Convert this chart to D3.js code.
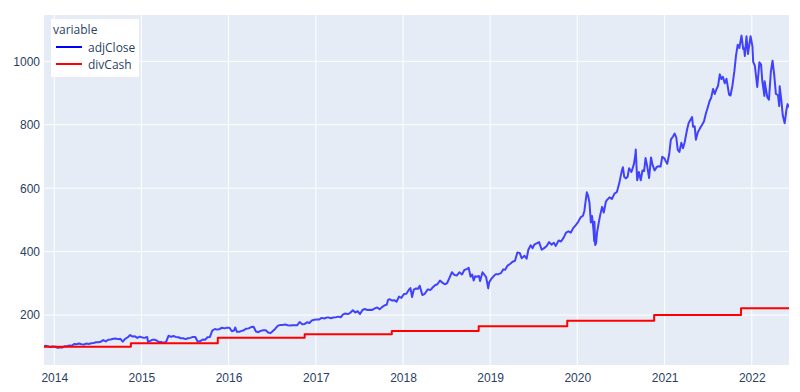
<!DOCTYPE html>
<html><head><meta charset="utf-8">
<script src="https://cdn.jsdelivr.net/npm/d3@7"></script>
<style>html,body{margin:0;padding:0;background:#fff;}svg{display:block;font-family:"Open Sans",verdana,arial,sans-serif;}</style>
</head><body>
<svg id="chart" width="800" height="392"></svg>
<script>
const seriesNames = ["adjClose", "divCash"];
const seriesColors = ["blue", "red"];
const legendTitle = "variable";
const yTicks = [200, 400, 600, 800, 1000];
const xTickYears = [2014, 2015, 2016, 2017, 2018, 2019, 2020, 2021, 2022];
const xDomain = ["2013-11-19", "2022-06-06"];
const yDomain = [42.5, 1146];

const divCash = [
  ["2013-11-19",100],["2014-11-18",110.7],["2015-11-17",128.6],["2016-11-15",139.3],
  ["2017-11-15",150],["2018-11-14",164.3],["2019-11-20",182.1],["2020-11-18",200],
  ["2021-11-17",221.4],["2022-06-06",221.4]
];

const adjClose = [
  ["2013-11-19",100],["2013-11-25",103],["2013-12-05",102],["2013-12-15",99],["2013-12-25",101],
  ["2014-01-05",100],["2014-01-15",97],["2014-01-25",98],["2014-02-05",98],["2014-02-15",102],["2014-02-25",102],
  ["2014-03-05",104],["2014-03-15",103],["2014-03-25",109],["2014-04-05",108],["2014-04-15",110],["2014-04-25",108],
  ["2014-05-05",107],["2014-05-15",110],["2014-05-25",109],["2014-06-05",111],["2014-06-15",112],["2014-06-25",114],
  ["2014-07-05",114],["2014-07-15",116],["2014-07-25",121],["2014-08-05",117],["2014-08-15",122],["2014-08-25",123],
  ["2014-09-05",125],["2014-09-15",126],["2014-09-25",124],["2014-10-05",125],["2014-10-15",116],["2014-10-25",125],
  ["2014-11-05",130],["2014-11-15",137],["2014-11-25",132],["2014-12-05",133],["2014-12-15",128],["2014-12-25",132],
  ["2015-01-05",129],["2015-01-15",128],["2015-01-25",131],["2015-01-29",115],["2015-02-05",118],["2015-02-15",122],["2015-02-25",122],
  ["2015-03-05",120],["2015-03-15",115],["2015-03-25",115],["2015-04-05",112],["2015-04-15",116],["2015-04-25",135],
  ["2015-05-05",131],["2015-05-15",134],["2015-05-25",131],["2015-06-05",130],["2015-06-15",127],["2015-06-25",127],
  ["2015-07-05",124],["2015-07-15",127],["2015-07-25",128],["2015-08-05",131],["2015-08-15",131],["2015-08-25",116],
  ["2015-09-05",118],["2015-09-15",123],["2015-09-25",122],["2015-10-05",130],["2015-10-15",131],["2015-10-25",151],
  ["2015-11-05",156],["2015-11-15",154],["2015-11-25",156],["2015-12-05",160],["2015-12-15",158],["2015-12-25",160],
  ["2016-01-05",160],["2016-01-15",149],["2016-01-25",152],["2016-01-29",161],["2016-02-05",147],["2016-02-15",147],["2016-02-25",150],
  ["2016-03-05",152],["2016-03-15",157],["2016-03-25",158],["2016-04-05",162],["2016-04-15",163],["2016-04-25",148],
  ["2016-05-05",146],["2016-05-15",150],["2016-05-25",152],["2016-06-05",152],["2016-06-15",145],["2016-06-25",143],
  ["2016-07-05",150],["2016-07-15",157],["2016-07-25",166],["2016-08-05",169],["2016-08-15",169],["2016-08-25",170],
  ["2016-09-05",168],["2016-09-15",167],["2016-09-25",168],["2016-10-05",168],["2016-10-15",168],["2016-10-25",178],
  ["2016-11-05",171],["2016-11-15",172],["2016-11-25",177],["2016-12-05",175],["2016-12-15",183],["2016-12-25",185],
  ["2017-01-05",186],["2017-01-15",186],["2017-01-25",191],["2017-02-05",189],["2017-02-15",192],["2017-02-25",192],
  ["2017-03-05",190],["2017-03-15",192],["2017-03-25",193],["2017-04-05",195],["2017-04-15",193],["2017-04-25",202],
  ["2017-05-05",205],["2017-05-15",203],["2017-05-25",207],["2017-06-05",215],["2017-06-15",208],["2017-06-25",212],
  ["2017-07-05",203],["2017-07-15",216],["2017-07-25",219],["2017-08-05",216],["2017-08-15",217],["2017-08-25",216],
  ["2017-09-05",221],["2017-09-15",224],["2017-09-25",218],["2017-10-05",225],["2017-10-15",230],["2017-10-25",233],["2017-10-30",247],
  ["2017-11-05",250],["2017-11-15",246],["2017-11-25",247],["2017-12-05",242],["2017-12-15",258],["2017-12-25",254],
  ["2018-01-05",266],["2018-01-15",267],["2018-01-25",279],["2018-02-01",285],["2018-02-08",257],["2018-02-15",280],["2018-02-25",284],
  ["2018-03-05",283],["2018-03-12",292],["2018-03-23",263],["2018-04-02",267],["2018-04-15",281],["2018-04-25",279],["2018-04-30",282],
  ["2018-05-05",287],["2018-05-15",294],["2018-05-25",297],["2018-06-05",309],["2018-06-15",302],["2018-06-25",297],
  ["2018-07-05",301],["2018-07-15",318],["2018-07-25",335],["2018-08-05",326],["2018-08-15",325],["2018-08-25",335],
  ["2018-09-05",328],["2018-09-15",342],["2018-09-25",345],["2018-10-03",349],["2018-10-11",321],["2018-10-18",328],["2018-10-24",309],["2018-10-30",322],
  ["2018-11-05",321],["2018-11-15",323],["2018-11-20",307],["2018-11-30",335],["2018-12-05",330],["2018-12-15",320],["2018-12-24",284],["2018-12-28",303],
  ["2019-01-05",313],["2019-01-15",322],["2019-01-25",329],["2019-02-05",329],["2019-02-15",332],["2019-02-25",344],
  ["2019-03-05",343],["2019-03-15",356],["2019-03-25",361],["2019-04-05",368],["2019-04-15",371],["2019-04-25",397],
  ["2019-05-05",396],["2019-05-13",379],["2019-05-25",387],["2019-06-03",378],["2019-06-10",406],["2019-06-20",420],["2019-06-28",411],
  ["2019-07-05",422],["2019-07-15",426],["2019-07-25",430],["2019-08-05",406],["2019-08-15",411],["2019-08-25",417],
  ["2019-09-05",430],["2019-09-15",422],["2019-09-25",428],["2019-10-03",418],["2019-10-15",435],["2019-10-25",432],
  ["2019-11-05",444],["2019-11-15",460],["2019-11-25",464],["2019-12-05",460],["2019-12-15",474],["2019-12-25",483],
  ["2020-01-05",494],["2020-01-15",508],["2020-01-25",513],["2020-01-31",529],["2020-02-05",559],["2020-02-10",587],["2020-02-15",577],["2020-02-21",555],["2020-02-27",492],
  ["2020-03-03",512],["2020-03-09",468],["2020-03-12",433],["2020-03-13",494],["2020-03-16",421],["2020-03-20",427],["2020-03-24",461],["2020-03-31",491],
  ["2020-04-06",515],["2020-04-14",541],["2020-04-21",523],["2020-04-30",558],["2020-05-05",563],["2020-05-15",571],["2020-05-25",566],
  ["2020-06-05",583],["2020-06-15",588],["2020-06-25",616],["2020-07-06",656],["2020-07-10",666],["2020-07-16",635],["2020-07-23",631],["2020-07-30",636],
  ["2020-08-05",663],["2020-08-15",651],["2020-08-25",675],["2020-08-31",703],["2020-09-02",722],["2020-09-08",625],["2020-09-15",651],["2020-09-23",625],["2020-09-30",656],
  ["2020-10-07",654],["2020-10-13",695],["2020-10-20",669],["2020-10-28",632],["2020-11-05",697],["2020-11-12",672],["2020-11-20",656],["2020-11-30",668],
  ["2020-12-07",669],["2020-12-15",668],["2020-12-22",699],["2020-12-31",694],
  ["2021-01-05",686],["2021-01-12",677],["2021-01-20",707],["2021-01-27",753],["2021-02-05",763],["2021-02-12",772],["2021-02-19",759],["2021-02-25",721],
  ["2021-03-04",714],["2021-03-12",743],["2021-03-19",726],["2021-03-26",745],["2021-04-05",785],["2021-04-12",806],["2021-04-26",824],["2021-04-30",794],
  ["2021-05-07",795],["2021-05-12",753],["2021-05-20",776],["2021-05-28",787],["2021-06-07",800],["2021-06-15",811],["2021-06-23",836],["2021-06-30",853],
  ["2021-07-08",874],["2021-07-15",885],["2021-07-23",913],["2021-07-30",897],["2021-08-06",912],["2021-08-13",923],["2021-08-20",959],["2021-08-27",944],
  ["2021-09-02",951],["2021-09-10",931],["2021-09-17",945],["2021-09-28",895],["2021-10-04",892],["2021-10-12",923],["2021-10-20",968],["2021-10-27",1018],
  ["2021-11-03",1052],["2021-11-10",1042],["2021-11-19",1081],["2021-11-26",1039],["2021-11-30",1041],["2021-12-03",1017],["2021-12-10",1079],["2021-12-16",1023],["2021-12-27",1079],
  ["2022-01-04",1046],["2022-01-07",998],["2022-01-14",986],["2022-01-24",919],["2022-02-02",997],["2022-02-09",990],["2022-02-14",938],["2022-02-23",891],["2022-02-24",937],
  ["2022-03-07",887],["2022-03-14",879],["2022-03-22",967],["2022-03-29",1002],["2022-04-05",958],["2022-04-12",897],["2022-04-21",893],["2022-04-26",859],["2022-04-28",921],
  ["2022-05-05",877],["2022-05-11",829],["2022-05-19",805],["2022-05-26",846],["2022-05-31",865],["2022-06-03",859],["2022-06-06",855]
];

const parse = d3.utcParse("%Y-%m-%d");
const svg = d3.select("#chart");
const m = {left: 44, right: 800 - 789, top: 15, bottom: 392 - 365};
const W = 800, H = 392;
const x = d3.scaleUtc().domain(xDomain.map(parse)).range([m.left, W - m.right]);
const y = d3.scaleLinear().domain(yDomain).range([H - m.bottom, m.top]);
const txt = "#2a3f5f";

svg.append("rect").attr("x", m.left).attr("y", m.top)
  .attr("width", W - m.right - m.left).attr("height", H - m.bottom - m.top).attr("fill", "#E5ECF6");

const xTickDates = xTickYears.map(yr => new Date(Date.UTC(yr, 0, 1)));
const grid = svg.append("g");
grid.selectAll("line.vx").data(xTickDates).join("line")
  .attr("x1", d => x(d)).attr("x2", d => x(d)).attr("y1", m.top).attr("y2", H - m.bottom)
  .attr("stroke", "#fff").attr("stroke-width", 1);
grid.selectAll("line.hy").data(yTicks).join("line")
  .attr("x1", m.left).attr("x2", W - m.right).attr("y1", d => y(d)).attr("y2", d => y(d))
  .attr("stroke", "#fff").attr("stroke-width", 1);

const xAxis = d3.axisBottom(x).tickValues(xTickDates).tickFormat(d3.utcFormat("%Y")).tickSize(0).tickPadding(6);
const gx = svg.append("g").attr("transform", `translate(0,${H - m.bottom})`).call(xAxis);
gx.select(".domain").remove();
gx.selectAll("text").attr("fill", txt).style("font-size", "12px").attr("dy", "0.9em");

const yAxis = d3.axisLeft(y).tickValues(yTicks).tickFormat(d3.format("d")).tickSize(0).tickPadding(4);
const gy = svg.append("g").attr("transform", `translate(${m.left},0)`).call(yAxis);
gy.select(".domain").remove();
gy.selectAll("text").attr("fill", txt).style("font-size", "12px");

svg.append("clipPath").attr("id", "clip").append("rect")
  .attr("x", m.left).attr("y", m.top).attr("width", W - m.right - m.left).attr("height", H - m.bottom - m.top);

const lineA = d3.line().x(d => x(parse(d[0]))).y(d => y(d[1]));
const lineD = d3.line().x(d => x(parse(d[0]))).y(d => y(d[1])).curve(d3.curveStepAfter);
const plot = svg.append("g").attr("clip-path", "url(#clip)");
plot.append("path").datum(adjClose).attr("d", lineA).attr("fill", "none")
  .attr("stroke", seriesColors[0]).attr("stroke-width", 2).attr("stroke-opacity", 0.72).attr("stroke-linejoin", "round");
plot.append("path").datum(divCash).attr("d", lineD).attr("fill", "none")
  .attr("stroke", seriesColors[1]).attr("stroke-width", 2).attr("stroke-linejoin", "round");

const lg = svg.append("g");
lg.append("rect").attr("x", 51).attr("y", 19).attr("width", 88).attr("height", 58).attr("fill", "#fff");
lg.append("text").attr("x", 53).attr("y", 34).attr("fill", txt).style("font-size", "12px").text(legendTitle);
seriesNames.forEach((n, i) => {
  const yy = 47 + i * 17;
  lg.append("line").attr("x1", 56).attr("x2", 82).attr("y1", yy).attr("y2", yy)
    .attr("stroke", seriesColors[i]).attr("stroke-width", 2);
  lg.append("text").attr("x", 88).attr("y", yy + 4.5).attr("fill", txt).style("font-size", "12px").text(n);
});
</script>
</body></html>
